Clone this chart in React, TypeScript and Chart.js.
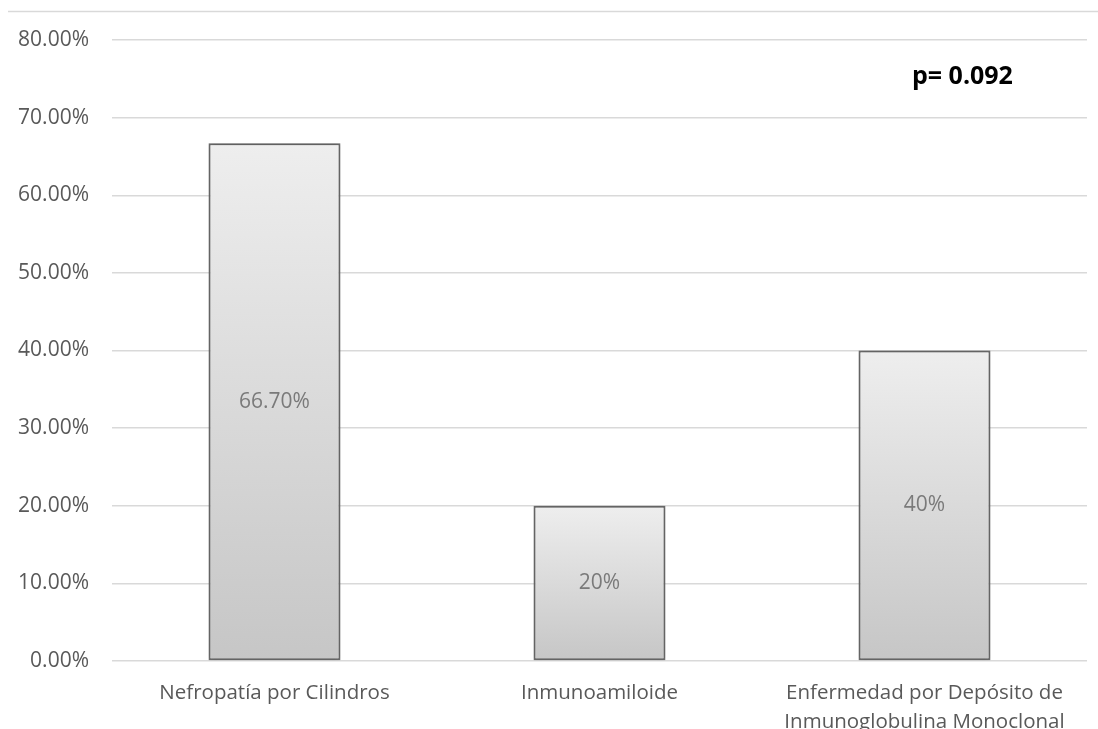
import React, { useEffect, useRef } from "react";
import { Chart, registerables } from "chart.js";

Chart.register(...registerables);

// Categories (multi-line label for the last one)
const categories: (string | string[])[] = [
  "Nefropatía por Cilindros",
  "Inmunoamiloide",
  ["Enfermedad por Depósito de", "Inmunoglobulina Monoclonal"],
];

// Proportion of cases per category (fractions)
const proportions = [0.667, 0.2, 0.4];

// Text shown inside each bar
const valueLabels = ["66.70%", "20%", "40%"];

// Statistical note shown at the top right
const pValueText = "p= 0.092";

const W = 1098;
const H = 729;
const FONT = "'Open Sans', 'Noto Sans', sans-serif";
const TEXT_GRAY = "#595959";
const GRID_GRAY = "#d9d9d9";

// Frame line, bar shadows, in-bar value labels and the p-value note
const decorations = {
  id: "decorations",
  beforeDraw(chart: any) {
    const { ctx } = chart;
    ctx.save();
    ctx.fillStyle = "#ffffff";
    ctx.fillRect(0, 0, W, H);
    ctx.strokeStyle = GRID_GRAY;
    ctx.lineWidth = 1.5;
    ctx.beginPath();
    ctx.moveTo(8, 11.5);
    ctx.lineTo(W, 11.5);
    ctx.stroke();
    ctx.restore();
  },
  beforeDatasetsDraw(chart: any) {
    const ctx = chart.ctx;
    ctx.save();
    ctx.shadowColor = "rgba(0,0,0,0.28)";
    ctx.shadowBlur = 5;
    ctx.shadowOffsetX = 0;
    ctx.shadowOffsetY = 0;
  },
  afterDatasetsDraw(chart: any) {
    const ctx = chart.ctx;
    ctx.restore();
    const meta = chart.getDatasetMeta(0);
    ctx.save();
    ctx.font = `21px ${FONT}`;
    ctx.fillStyle = "#7a7a7a";
    ctx.textAlign = "center";
    ctx.textBaseline = "middle";
    meta.data.forEach((bar: any, i: number) => {
      const mid = (bar.y + bar.base) / 2;
      ctx.fillText(valueLabels[i], bar.x, mid);
    });
    ctx.font = `bold 25px ${FONT}`;
    ctx.fillStyle = "#000000";
    ctx.textAlign = "left";
    ctx.textBaseline = "alphabetic";
    ctx.fillText(pValueText, 912, 84);
    ctx.restore();
  },
};

export default function App() {
  const canvasRef = useRef<HTMLCanvasElement | null>(null);

  useEffect(() => {
    const canvas = canvasRef.current;
    if (!canvas) return;

    const chart = new Chart(canvas, {
      type: "bar",
      data: {
        labels: categories,
        datasets: [
          {
            data: proportions,
            backgroundColor: (c: any) => {
              const ch = c.chart;
              const yScale = ch.scales && ch.scales.y;
              if (!yScale || c.raw === undefined) return "#dcdcdc";
              const top = yScale.getPixelForValue(c.raw);
              const base = yScale.getPixelForValue(0);
              if (!isFinite(top) || !isFinite(base) || top === base) return "#dcdcdc";
              const g = ch.ctx.createLinearGradient(0, top, 0, base);
              g.addColorStop(0, "#eeeeee");
              g.addColorStop(1, "#c6c6c6");
              return g;
            },
            borderColor: "#6a6a6a",
            borderWidth: 2,
            borderSkipped: false,
            categoryPercentage: 1,
            barPercentage: 0.406,
          },
        ],
      },
      options: {
        responsive: false,
        animation: false,
        devicePixelRatio: 1,
        layout: { padding: { top: 40, right: 11, bottom: 0, left: 0 } },
        plugins: {
          legend: { display: false },
          tooltip: { enabled: false },
          title: { display: false },
        },
        scales: {
          x: {
            grid: { display: false, drawTicks: false },
            border: { display: false },
            ticks: {
              autoSkip: false,
              maxRotation: 0,
              minRotation: 0,
              padding: 18,
              color: TEXT_GRAY,
              font: { family: FONT, size: 20.5, lineHeight: 1.4 },
            },
            afterFit: (s: any) => {
              s.height = 68;
            },
          },
          y: {
            min: 0,
            max: 0.8,
            ticks: {
              stepSize: 0.1,
              padding: 23,
              color: TEXT_GRAY,
              font: { family: FONT, size: 21 },
              callback: (v: any) => (Number(v) * 100).toFixed(2) + "%",
            },
            grid: { color: GRID_GRAY, lineWidth: 1.5, drawTicks: false },
            border: { display: false },
            afterFit: (s: any) => {
              s.width = 112;
            },
          },
        },
      },
      plugins: [decorations],
    });

    return () => chart.destroy();
  }, []);

  return (
    <div style={{ position: "absolute", left: 0, top: 0, width: W, height: H, background: "#fff" }}>
      <canvas ref={canvasRef} width={W} height={H} style={{ display: "block" }} />
    </div>
  );
}
